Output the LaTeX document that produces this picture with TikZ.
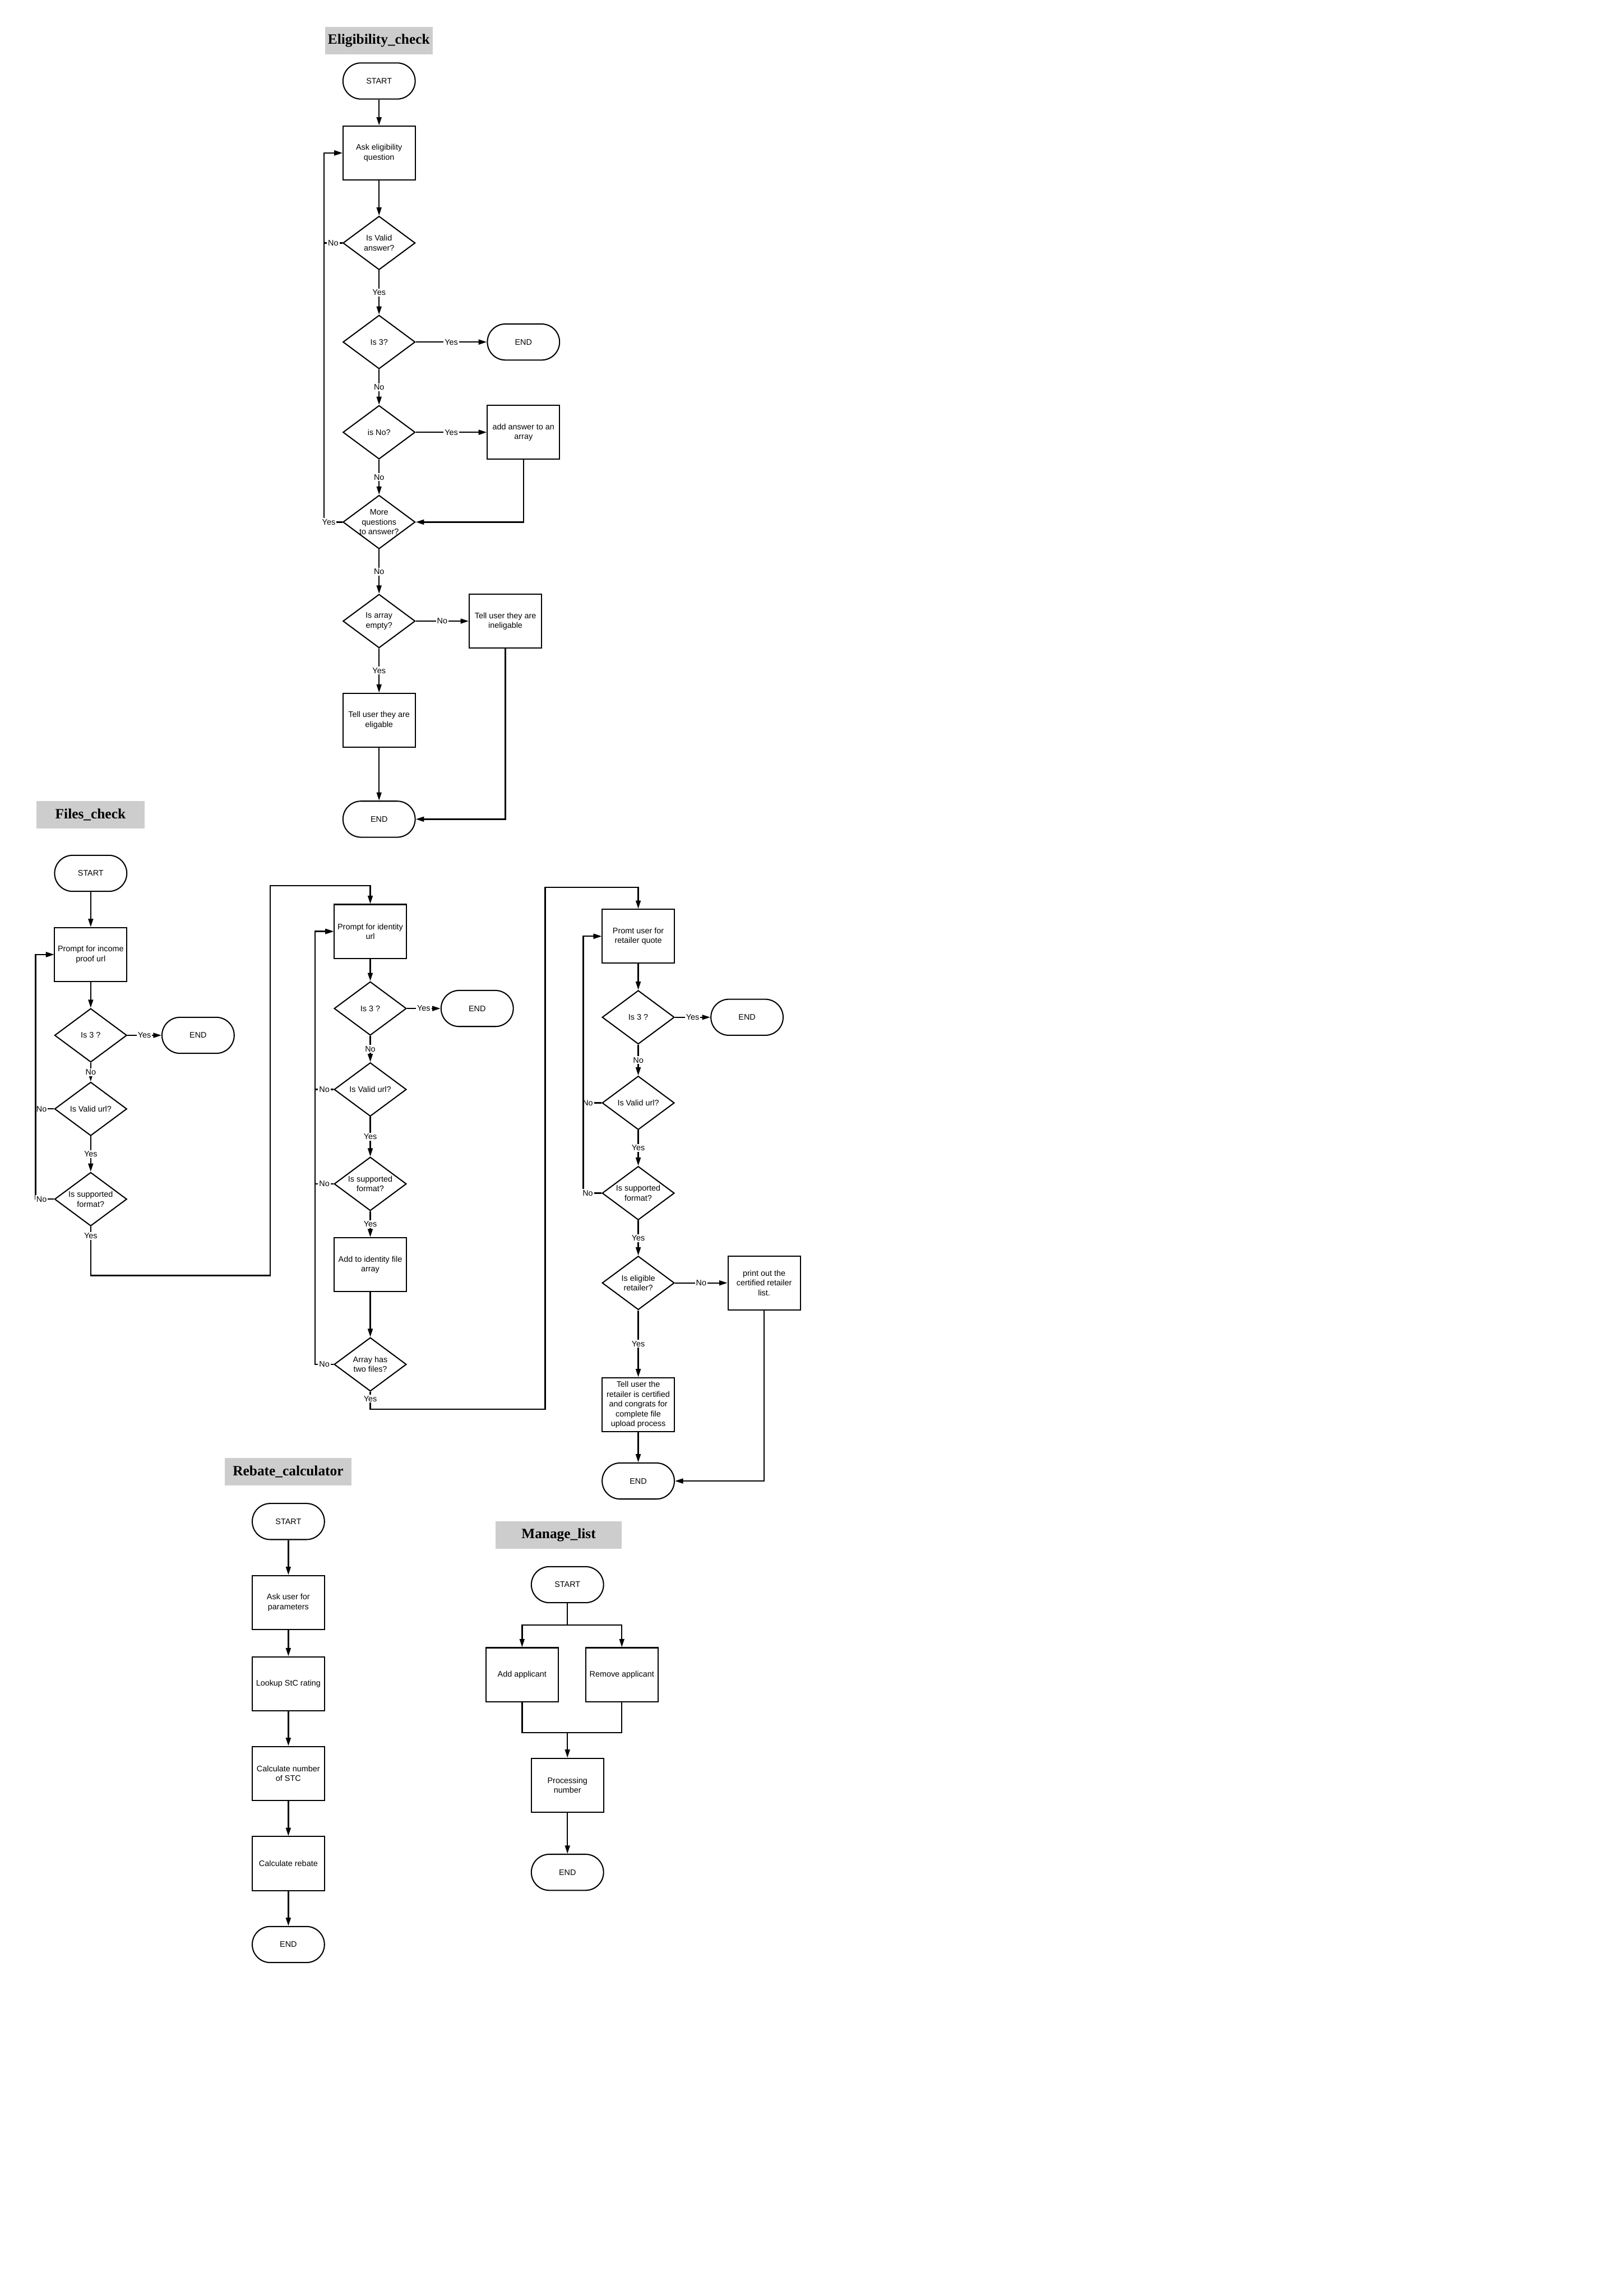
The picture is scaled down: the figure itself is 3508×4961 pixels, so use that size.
\documentclass[tikz,border=0pt]{standalone}
\usepackage{fontspec}
\setmainfont{Liberation Sans}
\newfontfamily\titlefont{Liberation Serif}
\usetikzlibrary{shapes.geometric,arrows.meta}
\definecolor{titlegray}{RGB}{205,205,205}
\newcommand\nodefont{\fontsize{4.2}{5.1}\selectfont}
\newcommand\ttlfont{\titlefont\bfseries\fontsize{7.4}{8.5}\selectfont}
\begin{document}
\begin{tikzpicture}[x=0.084667mm, y=-0.084667mm,
  proc/.style={draw, line width=0.6pt, rectangle, minimum width=13.21mm, minimum height=9.87mm, inner sep=0pt, align=center, font=\nodefont},
  term/.style={draw, line width=0.6pt, rectangle, rounded corners=3.3mm, minimum width=13.21mm, minimum height=6.6mm, inner sep=0pt, font=\nodefont},
  dec/.style={draw, line width=0.6pt, diamond, minimum width=13.21mm, minimum height=9.82mm, inner sep=0pt},
  txt/.style={align=center, font=\nodefont, inner sep=0pt},
  ttl/.style={fill=titlegray, minimum height=5mm, inner sep=0pt, font=\ttlfont},
  lbl/.style={fill=white, inner sep=0.6pt, font=\nodefont},
  arr/.style={line width=0.7pt, -{Triangle[length=1.5mm, width=0.9mm]}},
  ln/.style={line width=0.7pt}]
\useasboundingbox (0,0) rectangle (3508,4961);

% ---------------- Eligibility_check ----------------
\node[ttl, minimum width=19.73mm] (t1) at (818.5,87.5) {Eligibility\_check};
\node[term] (e0) at (819,175) {START};
\node[proc] (e1) at (819,330.5) {Ask eligibility\\question};
\node[dec, label={[txt]center:{Is Valid\\answer?}}] (e2) at (819,525) {};
\node[dec, label={[txt]center:{Is 3?}}] (e3) at (819,739) {};
\node[term] (e4) at (1131,739) {END};
\node[dec, label={[txt]center:{is No?}}] (e5) at (819,934) {};
\node[proc] (e6) at (1131,934) {add answer to an\\array};
\node[dec, label={[txt]center:{More\\questions\\to answer?}}] (e7) at (819,1128) {};
\node[dec, label={[txt]center:{Is array\\empty?}}] (e8) at (819,1342) {};
\node[proc] (e9) at (1092,1342) {Tell user they are\\ineligable};
\node[proc] (e10) at (819,1556) {Tell user they are\\eligable};
\node[term] (e11) at (819,1770) {END};

\draw[arr] (e0) -- (e1);
\draw[arr] (e1) -- (e2);
\draw[arr] (e2) -- node[lbl]{Yes} (e3);
\draw[arr] (e3) -- node[lbl]{Yes} (e4);
\draw[arr] (e3) -- node[lbl]{No} (e5);
\draw[arr] (e5) -- node[lbl]{Yes} (e6);
\draw[arr] (e5) -- node[lbl]{No} (e7);
\draw[arr] (e6) |- (e7.east);
\draw[arr] (e2.west) -- node[lbl]{No} (700,525) |- (e1.west);
\draw[arr] (e7.west) -- node[lbl,pos=0.74]{Yes} (700,1128) |- (e1.west);
\draw[arr] (e7) -- node[lbl]{No} (e8);
\draw[arr] (e8) -- node[lbl]{No} (e9);
\draw[arr] (e8) -- node[lbl]{Yes} (e10);
\draw[arr] (e10) -- (e11);
\draw[arr] (e9) |- (e11.east);

% ---------------- Files_check ----------------
\node[ttl, minimum width=19.73mm] (t2) at (195.5,1760.5) {Files\_check};
\node[term] (f0) at (196,1887) {START};
\node[proc] (f1) at (196,2062.5) {Prompt for income\\proof url};
\node[dec, label={[txt]center:{Is 3 ?}}] (f2) at (196,2237) {};
\node[term] (f3) at (428,2237) {END};
\node[dec, label={[txt]center:{Is Valid url?}}] (f4) at (196,2396) {};
\node[dec, label={[txt]center:{Is supported\\format?}}] (f5) at (196,2591) {};

\draw[arr] (f0) -- (f1);
\draw[arr] (f1) -- (f2);
\draw[arr] (f2) -- node[lbl]{Yes} (f3);
\draw[arr] (f2) -- node[lbl]{No} (f4);
\draw[arr] (f4) -- node[lbl]{Yes} (f5);
\draw[arr] (f4.west) -- node[lbl,pos=0.68]{No} (77,2396) |- (f1.west);
\draw[arr] (f5.west) -- node[lbl,pos=0.68]{No} (77,2591) |- (f1.west);

% identity column
\node[proc] (g0) at (800,2012.5) {Prompt for identity\\url};
\node[dec, label={[txt]center:{Is 3 ?}}] (g1) at (800,2179) {};
\node[term] (g2) at (1031,2179) {END};
\node[dec, label={[txt]center:{Is Valid url?}}] (g3) at (800,2354) {};
\node[dec, label={[txt]center:{Is supported\\format?}}] (g4) at (800,2558) {};
\node[proc] (g5) at (800,2732.5) {Add to identity file\\array};
\node[dec, label={[txt]center:{Array has\\two files?}}] (g6) at (800,2948) {};

\draw[arr] (f5.south) -- node[lbl,pos=0.19]{Yes} (196,2756) -| (584,1914) -| (g0.north);
\draw[arr] (g0) -- (g1);
\draw[arr] (g1) -- node[lbl]{Yes} (g2);
\draw[arr] (g1) -- node[lbl]{No} (g3);
\draw[arr] (g3) -- node[lbl]{Yes} (g4);
\draw[arr] (g4) -- node[lbl]{Yes} (g5);
\draw[arr] (g5) -- (g6);
\draw[arr] (g3.west) -- node[lbl]{No} (681,2354) |- (g0.west);
\draw[arr] (g4.west) -- node[lbl]{No} (681,2558) |- (g0.west);
\draw[arr] (g6.west) -- node[lbl]{No} (681,2948) |- (g0.west);

% retailer column
\node[proc] (r0) at (1379,2023) {Promt user for\\retailer quote};
\node[dec, label={[txt]center:{Is 3 ?}}] (r1) at (1379,2198) {};
\node[term] (r2) at (1614,2198) {END};
\node[dec, label={[txt]center:{Is Valid url?}}] (r3) at (1379,2383) {};
\node[dec, label={[txt]center:{Is supported\\format?}}] (r4) at (1379,2578) {};
\node[dec, label={[txt]center:{Is eligible\\retailer?}}] (r5) at (1379,2772) {};
\node[proc] (r6) at (1651,2772) {print out the\\certified retailer\\list.};
\node[proc] (r7) at (1379,3035) {Tell user the\\retailer is certified\\and congrats for\\complete file\\upload process};
\node[term] (r8) at (1379,3200) {END};

\draw[arr] (g6.south) -- node[lbl,pos=0.4]{Yes} (800,3045) -| (1178,1917) -| (r0.north);
\draw[arr] (r0) -- (r1);
\draw[arr] (r1) -- node[lbl]{Yes} (r2);
\draw[arr] (r1) -- node[lbl]{No} (r3);
\draw[arr] (r3) -- node[lbl]{Yes} (r4);
\draw[arr] (r4) -- node[lbl]{Yes} (r5);
\draw[arr] (r5) -- node[lbl]{No} (r6);
\draw[arr] (r5) -- node[lbl]{Yes} (r7);
\draw[arr] (r7) -- (r8);
\draw[arr] (r6) |- (r8.east);
\draw[arr] (r3.west) -- node[lbl,pos=0.75]{No} (1260,2383) |- (r0.west);
\draw[arr] (r4.west) -- node[lbl,pos=0.75]{No} (1260,2578) |- (r0.west);

% ---------------- Rebate_calculator ----------------
\node[ttl, minimum width=23.1mm] (t3) at (622.5,3180) {Rebate\_calculator};
\node[term] (b0) at (623,3287.5) {START};
\node[proc] (b1) at (623,3462.5) {Ask user for\\parameters};
\node[proc] (b2) at (623,3638) {Lookup StC rating};
\node[proc] (b3) at (623,3832) {Calculate number\\of STC};
\node[proc] (b4) at (623,4026.5) {Calculate rebate};
\node[term] (b5) at (623,4201.5) {END};
\draw[arr] (b0) -- (b1);
\draw[arr] (b1) -- (b2);
\draw[arr] (b2) -- (b3);
\draw[arr] (b3) -- (b4);
\draw[arr] (b4) -- (b5);

% ---------------- Manage_list ----------------
\node[ttl, minimum width=23.0mm] (t4) at (1207,3316.5) {Manage\_list};
\node[term] (m0) at (1226,3424) {START};
\node[proc] (m1) at (1128,3618.5) {Add applicant};
\node[proc] (m2) at (1343.5,3618.5) {Remove applicant};
\node[proc] (m3) at (1226,3857.5) {Processing\\number};
\node[term] (m4) at (1226,4045.5) {END};
\coordinate (msplit) at (1226,3511);
\coordinate (mmerge) at (1226,3744);
\draw[ln] (m0) -- (msplit);
\draw[arr] (msplit) -| (m1.north);
\draw[arr] (msplit) -| (m2.north);
\draw[ln] (m1.south) |- (mmerge);
\draw[ln] (m2.south) |- (mmerge);
\draw[arr] (mmerge) -- (m3);
\draw[arr] (m3) -- (m4);
\end{tikzpicture}
\end{document}
